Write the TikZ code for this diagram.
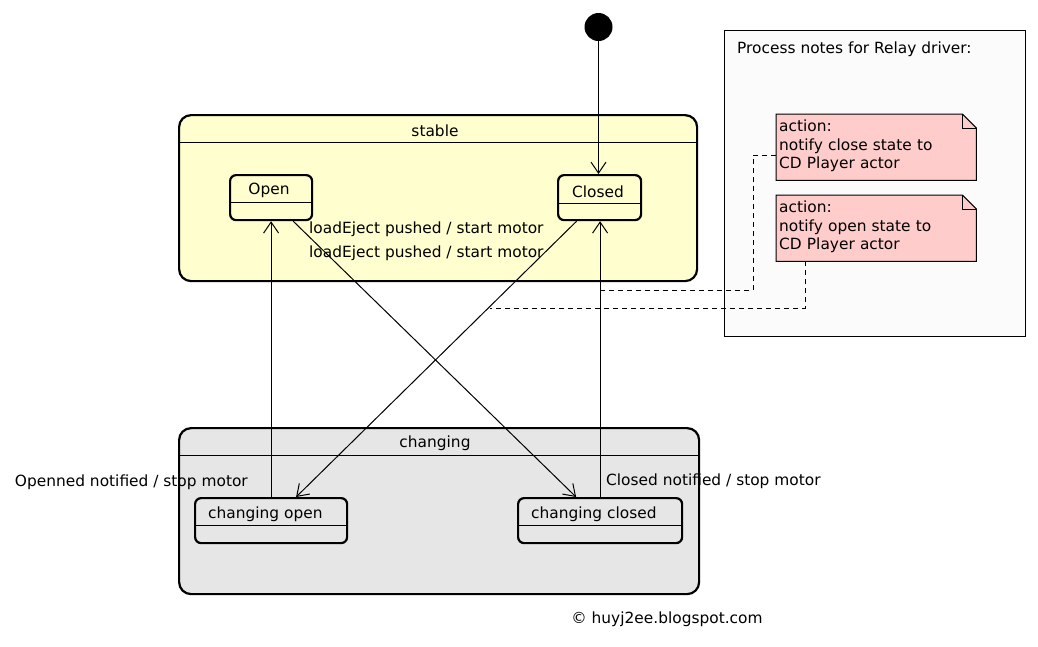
\documentclass[tikz,border=0pt]{standalone}
\usepackage{fontspec}
\setmainfont{DejaVu Sans}
\usetikzlibrary{arrows.meta,calc}
\definecolor{stableyellow}{RGB}{254,254,206}
\definecolor{changegray}{RGB}{230,230,230}
\definecolor{notepink}{RGB}{255,204,204}
\definecolor{notesbg}{RGB}{251,251,251}
\begin{document}
\begin{tikzpicture}[x=1pt,y=-1pt,
  every node/.style={font=\fontsize{15.4}{18.5}\selectfont, inner sep=0pt},
  txt/.style={yshift=-1.5pt},
  container/.style={draw, line width=2.2pt, rounded corners=12pt, anchor=north west},
  statebox/.style={draw, line width=2.2pt, rounded corners=6pt, anchor=north west},
  tr/.style={draw, line width=1pt, -{Straight Barb[length=11pt,width=15pt]}},
  notelink/.style={draw, line width=1pt, dash pattern=on 5pt off 4pt},
  noteshape/.style={anchor=north west, minimum width=200pt, minimum height=66pt, text width=194pt, align=left, inner xsep=3pt}]
\useasboundingbox (0,0) rectangle (1038,646);
\fill[white] (0,0) rectangle (1038,646);

% notes container
\node[draw, fill=notesbg, line width=1pt, anchor=north west, minimum width=301pt, minimum height=306pt] (notes) at (724,30) {};
\node[txt, anchor=west] (notestitle) at (737,48) {Process notes for Relay driver:};

% initial state
\node[circle, fill=black, minimum size=28pt] (init) at (598.5,27) {};

% stable container
\node[container, fill=stableyellow, minimum width=518pt, minimum height=166pt] (stable) at (178,114) {};
\draw[line width=1pt] ($(stable.north west)+(0,28)$) -- ($(stable.north east)+(0,28)$);
\node[txt] (stabletitle) at (435,129) {stable};

% changing container
\node[container, fill=changegray, minimum width=520pt, minimum height=166pt] (changing) at (178,427) {};
\draw[line width=1pt] ($(changing.north west)+(0,28)$) -- ($(changing.north east)+(0,28)$);
\node[txt] (changingtitle) at (435,442) {changing};

% inner states
\node[statebox, minimum width=82pt, minimum height=45pt] (open) at (229,174) {};
\draw[line width=1pt] ($(open.north west)+(0,28)$) -- ($(open.north east)+(0,28)$);
\node[txt] (opentext) at (269,189) {Open};

\node[statebox, minimum width=83pt, minimum height=45pt] (closed) at (557,174) {};
\draw[line width=1pt] ($(closed.north west)+(0,29)$) -- ($(closed.north east)+(0,29)$);
\node[txt] (closedtext) at (598,190) {Closed};

\node[statebox, minimum width=152pt, minimum height=45pt] (chopen) at (194,497) {};
\draw[line width=1pt] ($(chopen.north west)+(0,28)$) -- ($(chopen.north east)+(0,28)$);
\node[txt, anchor=west] (chopentext) at (208,513) {changing open};

\node[statebox, minimum width=164pt, minimum height=45pt] (chclosed) at (517,497) {};
\draw[line width=1pt] ($(chclosed.north west)+(0,28)$) -- ($(chclosed.north east)+(0,28)$);
\node[txt, anchor=west] (chclosedtext) at (531,513) {changing closed};

% notes
\node[noteshape] (note1) at (776,114) {};
\draw[line width=1pt, fill=notepink] (note1.south west) -- (note1.north west) -- ($(note1.north east)+(-14,0)$) -- ($(note1.north east)+(0,14)$) -- (note1.south east) -- cycle;
\draw[line width=1pt] ($(note1.north east)+(-14,0)$) -- ($(note1.north east)+(-14,14)$) -- ($(note1.north east)+(0,14)$);
\node[noteshape] (note1text) at (776,113) {action:\\notify close state to\\CD Player actor};

\node[noteshape] (note2) at (776,195) {};
\draw[line width=1pt, fill=notepink] (note2.south west) -- (note2.north west) -- ($(note2.north east)+(-14,0)$) -- ($(note2.north east)+(0,14)$) -- (note2.south east) -- cycle;
\draw[line width=1pt] ($(note2.north east)+(-14,0)$) -- ($(note2.north east)+(-14,14)$) -- ($(note2.north east)+(0,14)$);
\node[noteshape] (note2text) at (776,194) {action:\\notify open state to\\CD Player actor};

% note links
\coordinate (link1end) at (600,290);
\coordinate (link2end) at (490,308);
\draw[notelink] (note1.west |- 0,155) -- (753,155) -- (753,290) -- (link1end);
\draw[notelink] ($(note2.south west)+(29,0)$) -- (805,308) -- (link2end);

% transitions
\draw[tr] (init) -- (init |- closed.north);
\draw[tr] ($(open.south east)+(-20,0)$) -- ($(chclosed.north)+(-24,0)$);
\draw[tr] ($(closed.south)+(-23,0)$) -- ($(chopen.north)+(25,0)$);
\draw[tr] (chopen.north) -- (chopen.north |- open.south);
\draw[tr] (chclosed.north) -- (chclosed.north |- closed.south);

% labels
\node[txt, anchor=west] (lbl1) at (309,228) {loadEject pushed / start motor};
\node[txt, anchor=west] (lbl2) at (309,252) {loadEject pushed / start motor};
\node[txt, anchor=east] (lbl3) at (248,481) {Openned notified / stop motor};
\node[txt, anchor=west] (lbl4) at (606,480) {Closed notified / stop motor};
\node[txt] (copy) at (667,618) {© huyj2ee.blogspot.com};
\end{tikzpicture}
\end{document}
